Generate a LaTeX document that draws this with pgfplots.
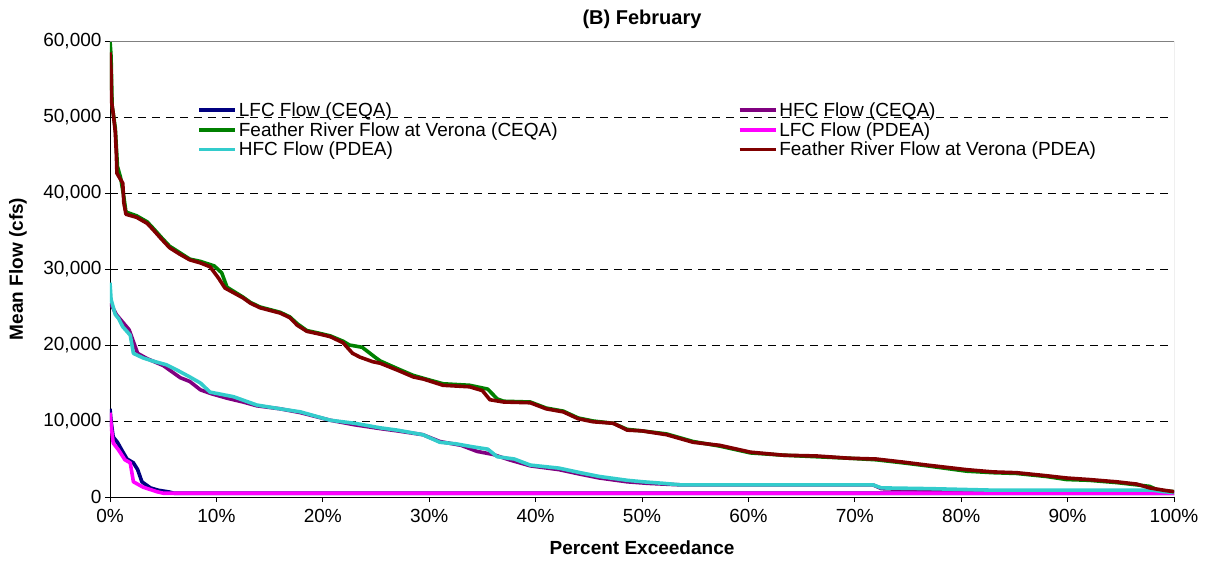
\documentclass[border=0pt]{standalone}
\usepackage{pgfplots}
\pgfplotsset{compat=1.18}
\usepackage{fontspec}
\setmainfont{Liberation Sans}
\definecolor{cNavy}{HTML}{000080}
\definecolor{cPurple}{HTML}{800080}
\definecolor{cGreen}{HTML}{008000}
\definecolor{cMag}{HTML}{FF00FF}
\definecolor{cCyan}{HTML}{33CCCC}
\definecolor{cRed}{HTML}{800000}
\begin{document}
\begin{tikzpicture}
\path[use as bounding box] (-110pt,-69pt) rectangle (1095pt,497pt);
\begin{axis}[
  at={(0pt,0pt)}, anchor=south west,
  scale only axis, width=1064pt, height=456pt,
  xmin=0, xmax=100, ymin=0, ymax=60000,
  axis x line*=bottom, axis y line*=left,
  axis line style={black, line width=0.8pt},
  xtick={0,10,...,100}, ytick={0,10000,...,60000},
  xticklabel={\pgfmathprintnumber{\tick}\%},
  scaled y ticks=false,
  /pgf/number format/.cd, fixed, 1000 sep={,}, assume math mode=true, /pgfplots/.cd,
  tick align=outside, major tick length=5pt,
  tick style={black, line width=0.8pt},
  ticklabel style={font=\fontsize{19}{22}\selectfont},
  xticklabel style={yshift=-4pt},
  ymajorgrids,
  grid style={black, line width=0.8pt, dash pattern=on 8pt off 6pt},
  title={\textbf{(B) February}},
  title style={font=\fontsize{20}{24}\selectfont, at={(rel axis cs:0.5,1.035)}, anchor=center},
  xlabel={\textbf{Percent Exceedance}},
  xlabel style={font=\fontsize{19}{22}\selectfont, at={(rel axis cs:0.5,-0.1118)}, anchor=center},
  ylabel={\textbf{Mean Flow (cfs)}},
  ylabel style={font=\fontsize{19}{22}\selectfont, at={(rel axis cs:-0.0865,0.5)}, anchor=center, rotate=0},
  legend columns=2,
  legend cell align=left,
  legend style={draw=none, fill=none, at={(rel axis cs:0.0818,0.870)}, anchor=north west,
    font=\fontsize{19}{20}\selectfont, row sep=0.5pt, inner sep=0pt,
    /tikz/every even column/.append style={column sep=178pt}},
  legend image code/.code={\draw[#1, line width=3.6pt] (0pt,0pt) -- (36pt,0pt);},
  every axis plot/.append style={line width=3.6pt, line join=round},
]
\addplot[cNavy] coordinates {(0,11600)(0.1,10000)(0.3,7900)(0.7,7200)(1.1,6200)(1.6,5000)(2.2,4500)(2.6,3600)(3,2000)(3.8,1200)(4.5,900)(5.6,650)(6,500)(100,500)};
\addlegendentry{LFC Flow (CEQA)}
\addplot[cPurple] coordinates {(0,25500)(0.3,24800)(0.6,24000)(1.2,23000)(1.8,22000)(2.6,18900)(3.5,18200)(5,17300)(6.6,15700)(7.5,15200)(8.5,14100)(9.5,13600)(11,13000)(12.5,12500)(13.8,12000)(16,11600)(17.9,11100)(20.7,10100)(23,9500)(25.4,9000)(27,8700)(29.4,8200)(31,7300)(33,6800)(34.5,6000)(36,5600)(37.5,4900)(39.5,4100)(42.2,3600)(44.2,3000)(46,2500)(48.6,2000)(50.5,1800)(52,1700)(53.6,1600)(71.7,1600)(72.5,1100)(77,900)(83,700)(98,700)(100,600)};
\addlegendentry{HFC Flow (CEQA)}
\addplot[cGreen] coordinates {(0,60000)(0.1,58000)(0.2,51500)(0.5,48500)(0.7,43500)(1.0,42000)(1.3,39500)(1.5,37500)(2.5,37000)(3.5,36200)(4.1,35300)(4.8,34200)(5.6,33000)(6.5,32200)(7.5,31300)(8.5,31000)(9.8,30400)(10.5,29500)(11,27600)(12.5,26300)(13.2,25600)(14.1,25000)(16,24300)(16.9,23700)(17.6,22800)(18.5,21900)(19.5,21600)(20.7,21200)(21.9,20500)(22.5,20000)(23.7,19700)(25,18300)(25.4,17900)(27,16900)(28.5,16000)(29.5,15600)(31.3,14900)(33.8,14700)(35.5,14200)(36.4,12900)(37,12600)(39.5,12500)(41,11700)(42.6,11300)(44,10400)(45.4,10000)(47.3,9700)(48.6,8900)(50,8700)(52.3,8300)(54.8,7300)(57.3,6700)(60.2,5800)(63.3,5500)(66.4,5300)(69.5,5100)(72,4900)(74.5,4500)(76.8,4100)(80.5,3400)(83,3200)(85.2,3100)(88,2700)(89.9,2300)(92,2200)(94.6,1900)(96.5,1600)(97.7,1400)(98.5,900)(100,700)};
\addlegendentry{Feather River Flow at Verona (CEQA)}
\addplot[cMag] coordinates {(0,11100)(0.1,9500)(0.3,7100)(0.8,6200)(1.4,4900)(1.9,4500)(2.2,2000)(3.1,1300)(4.4,700)(5,500)(100,500)};
\addlegendentry{LFC Flow (PDEA)}
\addplot[cCyan] coordinates {(0,28200)(0.1,26000)(0.2,25500)(0.5,24000)(0.8,23500)(1.2,22400)(1.9,21300)(2.2,18900)(3.1,18300)(4,17900)(5.3,17400)(6.3,16700)(7.5,15800)(8.5,15000)(9.4,13800)(10.5,13500)(11.6,13200)(13.8,12100)(16,11600)(17.9,11200)(20.7,10100)(23,9700)(25.4,9100)(27,8800)(29.4,8200)(31,7200)(32.5,7000)(34.1,6600)(35.5,6300)(36.4,5300)(38,5000)(39.5,4200)(42.2,3800)(44.2,3200)(46,2700)(48.6,2200)(50.1,2000)(52,1800)(53.6,1600)(71.7,1600)(72.5,1200)(77,1100)(83,900)(98,900)(99,700)(100,600)};
\addlegendentry{HFC Flow (PDEA)}
\addplot[cRed] coordinates {(0,58500)(0.1,56000)(0.15,52000)(0.3,50500)(0.5,48000)(0.6,45000)(0.65,42600)(0.9,42000)(1.2,41300)(1.3,38700)(1.5,37200)(2.5,36800)(3.5,36000)(4.1,35100)(4.8,34000)(5.6,32800)(6.5,32000)(7.5,31200)(8.5,30800)(9.4,30300)(10.2,28800)(10.8,27500)(12.5,26200)(13.2,25500)(14.1,24900)(16,24200)(16.9,23600)(17.6,22600)(18.5,21800)(19.5,21500)(20.7,21100)(21.9,20300)(22.8,18900)(23.5,18400)(24.7,17800)(25.4,17600)(27,16700)(28.5,15800)(29.5,15500)(31.3,14700)(33.8,14500)(35,14000)(35.7,12800)(37,12500)(39.5,12400)(41,11600)(42.6,11200)(44,10300)(45.4,9900)(47.3,9700)(48.6,8800)(50,8700)(52.3,8200)(54.8,7200)(57.3,6800)(60.2,5900)(63.3,5500)(66.4,5400)(69.5,5100)(72,5000)(74.5,4600)(76.8,4200)(80.5,3600)(83,3300)(85.2,3200)(88,2800)(89.9,2500)(92,2300)(94.6,2000)(96.5,1700)(97.7,1200)(99,900)(100,700)};
\addlegendentry{Feather River Flow at Verona (PDEA)}
\draw[gray, line width=0.8pt] (rel axis cs:0,1) -- (rel axis cs:1,1) -- (rel axis cs:1,0);
\end{axis}
\end{tikzpicture}
\end{document}
